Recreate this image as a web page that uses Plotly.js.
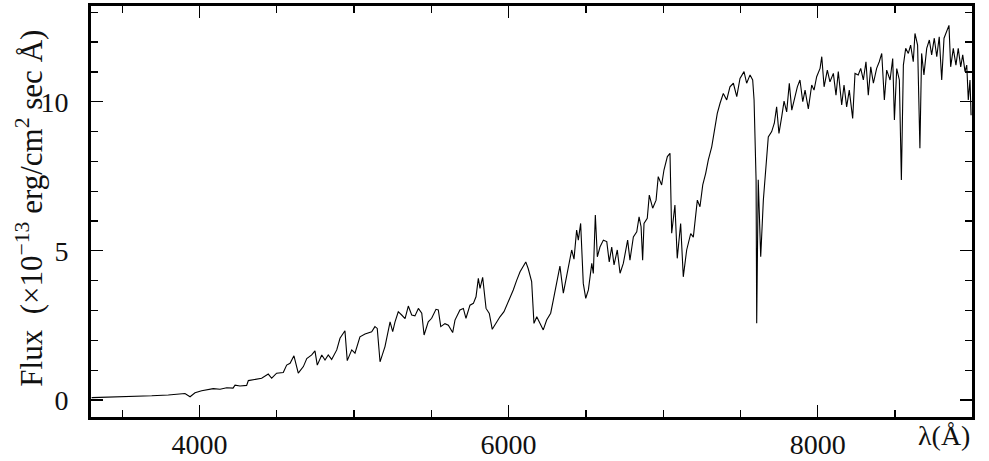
<!DOCTYPE html>
<html>
<head>
<meta charset="utf-8">
<script src="https://cdn.plot.ly/plotly-3.0.1.min.js"></script>
<style>
  html, body { margin: 0; padding: 0; background: #ffffff; }
  #chart { width: 989px; height: 461px; }
</style>
</head>
<body>
<div id="chart"></div>
<script>
// Wavelength (Angstrom)
const wavelength = [
  3302, 3389, 3475, 3583, 3691, 3798, 3885, 3906, 3939, 3971,
  4014, 4047, 4089, 4133, 4176, 4217, 4230, 4262, 4305, 4316,
  4359, 4402, 4445, 4467, 4499, 4542, 4564, 4586, 4611, 4639,
  4672, 4694, 4726, 4747, 4762, 4791, 4812, 4833, 4855, 4888,
  4909, 4941, 4956, 4985, 5006, 5038, 5071, 5114, 5135, 5150,
  5168, 5200, 5233, 5250, 5265, 5286, 5308, 5330, 5351, 5373,
  5394, 5416, 5438, 5453, 5480, 5502, 5530, 5545, 5561, 5588,
  5610, 5638, 5653, 5685, 5707, 5724, 5750, 5772, 5789, 5804,
  5815, 5832, 5854, 5875, 5894, 5923, 5944, 5970, 5998, 6030,
  6052, 6074, 6111, 6127, 6149, 6164, 6182, 6199, 6224, 6246,
  6272, 6289, 6311, 6332, 6354, 6376, 6408, 6423, 6440, 6451,
  6466, 6483, 6499, 6516, 6538, 6548, 6561, 6574, 6591, 6613,
  6635, 6651, 6667, 6682, 6703, 6721, 6742, 6770, 6785, 6807,
  6829, 6844, 6857, 6867, 6876, 6897, 6910, 6932, 6954, 6968,
  6990, 7005, 7027, 7044, 7055, 7076, 7091, 7113, 7130, 7152,
  7178, 7195, 7221, 7238, 7256, 7275, 7292, 7314, 7335, 7350,
  7368, 7389, 7411, 7432, 7454, 7476, 7497, 7523, 7540, 7562,
  7579, 7588, 7601, 7605, 7615, 7631, 7648, 7659, 7680, 7702,
  7719, 7734, 7749, 7767, 7782, 7799, 7816, 7832, 7853, 7868,
  7885, 7903, 7918, 7939, 7961, 7976, 7993, 8015, 8026, 8041,
  8062, 8079, 8101, 8118, 8133, 8155, 8170, 8187, 8204, 8226,
  8241, 8262, 8278, 8295, 8312, 8327, 8343, 8360, 8381, 8398,
  8414, 8431, 8446, 8468, 8485, 8496, 8511, 8528, 8541, 8554,
  8569, 8586, 8601, 8618, 8629, 8646, 8661, 8672, 8687, 8705,
  8722, 8737, 8754, 8770, 8786, 8802, 8817, 8834, 8849, 8860,
  8877, 8894, 8909, 8925, 8938, 8953, 8964, 8974, 8985, 8992
];

// Flux (x 1e-13 erg/cm^2/s/A)
const flux = [
  0.08, 0.09, 0.11, 0.11, 0.14, 0.17, 0.19, 0.22, 0.11, 0.24,
  0.31, 0.34, 0.38, 0.36, 0.41, 0.40, 0.50, 0.47, 0.49, 0.65,
  0.69, 0.73, 0.87, 0.73, 0.90, 0.92, 1.17, 1.23, 1.48, 0.90,
  1.12, 1.39, 1.51, 1.65, 1.17, 1.51, 1.34, 1.51, 1.36, 1.68,
  2.07, 2.32, 1.32, 1.68, 1.57, 2.12, 2.21, 2.29, 2.46, 2.40,
  1.28, 1.79, 2.62, 2.29, 2.62, 2.96, 2.85, 2.73, 3.15, 2.85,
  2.82, 3.07, 2.91, 2.18, 2.62, 2.74, 3.04, 3.02, 2.46, 2.56,
  2.51, 2.26, 2.68, 3.02, 3.07, 2.74, 3.18, 3.24, 3.46, 4.08,
  3.74, 4.11, 3.07, 2.90, 2.37, 2.62, 2.79, 2.96, 3.29, 3.69,
  4.01, 4.30, 4.63, 4.40, 3.97, 2.57, 2.79, 2.62, 2.35, 2.68,
  2.91, 3.35, 3.91, 4.49, 3.58, 4.13, 5.03, 4.72, 5.70, 5.36,
  5.92, 3.91, 3.41, 3.69, 4.58, 4.24, 6.20, 4.80, 5.13, 5.36,
  5.31, 4.63, 5.13, 4.53, 5.03, 4.25, 4.58, 5.36, 4.69, 5.47,
  5.64, 6.14, 5.81, 4.69, 5.92, 6.09, 6.87, 6.43, 6.70, 7.49,
  7.21, 7.71, 8.16, 8.27, 5.59, 6.54, 4.75, 5.92, 4.13, 5.03,
  5.58, 5.46, 6.70, 6.48, 7.21, 7.60, 8.05, 8.49, 9.16, 9.61,
  9.95, 10.28, 10.06, 10.50, 10.62, 10.17, 10.78, 11.01, 10.62, 10.90,
  10.73, 10.06, 7.38, 2.57, 7.38, 4.80, 6.70, 7.38, 8.82, 9.00,
  9.28, 9.83, 8.94, 9.50, 10.02, 9.66, 10.62, 9.72, 10.22, 10.50,
  10.73, 10.00, 10.39, 9.76, 10.56, 10.39, 10.84, 11.12, 11.51, 10.50,
  11.06, 10.67, 10.95, 10.22, 11.01, 9.89, 10.56, 9.83, 10.39, 9.44,
  10.95, 10.90, 11.12, 10.73, 11.34, 10.22, 11.17, 10.62, 11.12, 11.34,
  11.62, 10.06, 11.06, 10.73, 11.45, 9.39, 11.11, 10.73, 7.38, 11.23,
  11.79, 11.62, 11.90, 11.34, 12.29, 11.90, 8.44, 11.62, 10.90, 11.79,
  12.07, 11.57, 12.13, 11.51, 12.18, 10.73, 12.13, 12.40, 12.56, 11.17,
  11.79, 11.23, 11.79, 11.17, 11.57, 11.01, 11.23, 10.06, 10.73, 9.55
];

const xRange = [3298, 8998];
const yRange = [-0.57, 13.21];
const yTitle = 'Flux  (×10<sup>−13</sup> erg/cm<sup>2</sup> sec Å)';
const xTitle = 'λ(Å)';

const serif = 'Liberation Serif, Times New Roman, serif';

const axisCommon = {
  showline: true,
  linewidth: 3,
  linecolor: '#000',
  mirror: 'allticks',
  ticks: 'inside',
  ticklen: 12,
  tickwidth: 1.2,
  tickcolor: '#000',
  showgrid: false,
  zeroline: false,
  tickfont: { family: serif, size: 28, color: '#111' }
};

const layout = {
  width: 989,
  height: 461,
  margin: { l: 91, r: 17, t: 6, b: 44 },
  paper_bgcolor: '#ffffff',
  plot_bgcolor: '#ffffff',
  showlegend: false,
  xaxis: Object.assign({}, axisCommon, {
    range: xRange,
    tickmode: 'linear',
    tick0: 0,
    dtick: 2000,
    minor: { dtick: 500, tick0: 0, ticks: 'inside', ticklen: 7, tickwidth: 1.2, tickcolor: '#000', showgrid: false }
  }),
  yaxis: Object.assign({}, axisCommon, {
    range: yRange,
    tickmode: 'linear',
    tick0: 0,
    dtick: 5,
    ticksuffix: '\u00A0\u00A0',
    minor: { dtick: 1, tick0: 0, ticks: 'inside', ticklen: 7, tickwidth: 1.2, tickcolor: '#000', showgrid: false }
  }),
  annotations: [{
    text: yTitle,
    xref: 'paper', yref: 'paper',
    x: -0.0692, y: 0.507,
    xanchor: 'center', yanchor: 'middle',
    textangle: -90,
    showarrow: false,
    font: { family: serif, size: 31, color: '#111' }
  }, {
    text: xTitle,
    xref: 'paper', yref: 'paper',
    x: 1.0, y: -0.046,
    xanchor: 'right', yanchor: 'middle',
    showarrow: false,
    font: { family: serif, size: 28, color: '#111' }
  }]
};

const trace = {
  type: 'scatter',
  mode: 'lines',
  x: wavelength,
  y: flux,
  line: { color: '#000', width: 1.1 },
  hoverinfo: 'x+y'
};

Plotly.newPlot('chart', [trace], layout, { displayModeBar: false, staticPlot: true });
</script>
</body>
</html>
